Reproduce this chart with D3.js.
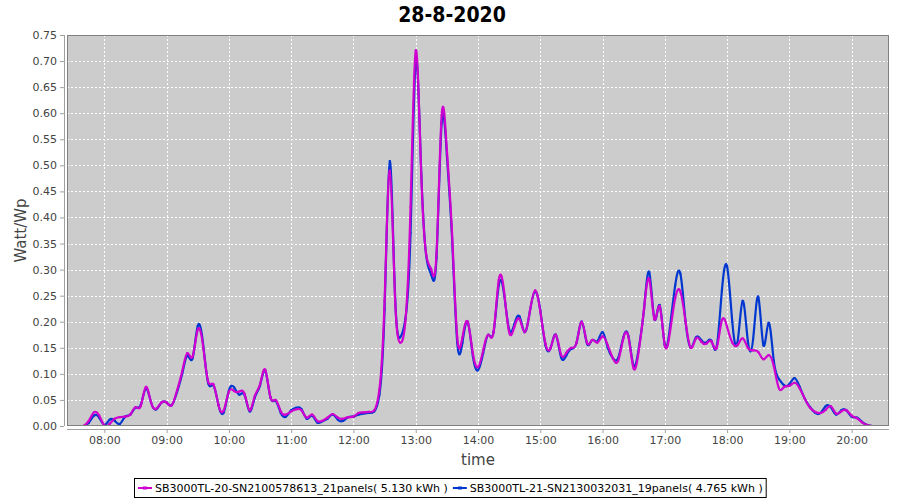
<!DOCTYPE html>
<html>
<head>
<meta charset="utf-8">
<script src="https://cdn.jsdelivr.net/npm/d3@7"></script>
<style>
  body { margin: 0; background: #ffffff; }
  svg { display: block; font-family: "DejaVu Sans", sans-serif; }
</style>
</head>
<body>
<div id="chart"></div>
<script>
// Samples every 5 minutes, starting 07:40
const startTime = "2020-08-28 07:40";
const stepMinutes = 5;

const seriesNames = [
    "SB3000TL-20-SN2100578613_21panels( 5.130 kWh )",
    "SB3000TL-21-SN2130032031_19panels( 4.765 kWh )"
];
const seriesColors = ["#d000d0", "#0037d0"];

const tickHours = ["08:00", "09:00", "10:00", "11:00", "12:00", "13:00", "14:00",
    "15:00", "16:00", "17:00", "18:00", "19:00", "20:00"];

// SB3000TL-20 (magenta)
const panels21 = [
    0.000, 0.010, 0.026, 0.020,
    0.001, 0.004, 0.014, 0.017, 0.018, 0.022, 0.036, 0.038, 0.075, 0.045, 0.033, 0.045,
    0.045, 0.040, 0.068, 0.105, 0.140, 0.133, 0.185, 0.155, 0.085, 0.080, 0.040, 0.030,
    0.066, 0.067, 0.066, 0.062, 0.030, 0.058, 0.080, 0.108, 0.055, 0.050, 0.028, 0.022,
    0.028, 0.032, 0.030, 0.016, 0.022, 0.010, 0.010, 0.016, 0.023, 0.016, 0.014, 0.017,
    0.018, 0.025, 0.026, 0.027, 0.030, 0.070, 0.240, 0.490, 0.250, 0.160, 0.200, 0.420,
    0.720, 0.500, 0.330, 0.300, 0.330, 0.596, 0.530, 0.370, 0.170, 0.170, 0.200, 0.140,
    0.113, 0.145, 0.175, 0.180, 0.280, 0.260, 0.180, 0.190, 0.205, 0.180, 0.220, 0.260,
    0.220, 0.158, 0.150, 0.175, 0.137, 0.140, 0.150, 0.160, 0.200, 0.160, 0.165, 0.160,
    0.172, 0.155, 0.130, 0.125, 0.168, 0.170, 0.110, 0.145, 0.225, 0.282, 0.205, 0.230,
    0.155, 0.180, 0.245, 0.258, 0.200, 0.150, 0.168, 0.162, 0.158, 0.162, 0.150, 0.203,
    0.190, 0.160, 0.155, 0.168, 0.150, 0.145, 0.142, 0.128, 0.136, 0.115, 0.072, 0.075,
    0.077, 0.083, 0.072, 0.052, 0.035, 0.027, 0.025, 0.031, 0.038, 0.024, 0.028, 0.030,
    0.020, 0.015, 0.007, 0.002, 0.000
];

// SB3000TL-21 (blue)
const panels19 = [
    0.000, 0.006, 0.020, 0.016,
    0.002, 0.012, 0.010, 0.004, 0.018, 0.022, 0.035, 0.040, 0.072, 0.045, 0.032, 0.045,
    0.045, 0.040, 0.065, 0.100, 0.135, 0.130, 0.192, 0.160, 0.082, 0.078, 0.040, 0.026,
    0.068, 0.074, 0.060, 0.060, 0.028, 0.055, 0.078, 0.106, 0.055, 0.048, 0.025, 0.018,
    0.030, 0.035, 0.032, 0.014, 0.020, 0.007, 0.009, 0.014, 0.022, 0.012, 0.010, 0.017,
    0.018, 0.022, 0.024, 0.025, 0.028, 0.060, 0.225, 0.508, 0.255, 0.170, 0.205, 0.370,
    0.700, 0.505, 0.328, 0.290, 0.323, 0.582, 0.520, 0.360, 0.160, 0.160, 0.200, 0.135,
    0.107, 0.140, 0.175, 0.180, 0.270, 0.255, 0.185, 0.195, 0.210, 0.180, 0.220, 0.258,
    0.222, 0.155, 0.150, 0.175, 0.132, 0.135, 0.148, 0.160, 0.200, 0.158, 0.165, 0.162,
    0.180, 0.150, 0.130, 0.130, 0.170, 0.172, 0.115, 0.150, 0.225, 0.295, 0.205, 0.232,
    0.155, 0.190, 0.270, 0.292, 0.200, 0.150, 0.170, 0.165, 0.160, 0.163, 0.152, 0.260,
    0.306, 0.200, 0.160, 0.240, 0.163, 0.165, 0.248, 0.155, 0.198, 0.125, 0.090, 0.078,
    0.080, 0.092, 0.075, 0.052, 0.036, 0.025, 0.025, 0.038, 0.036, 0.022, 0.030, 0.030,
    0.018, 0.016, 0.008, 0.002, 0.000
];

function drawChart(containerId = "#chart") {
    const W = 900, H = 500;
    const plot = { left: 67, top: 35, right: 889, bottom: 426 };

    const parse = d3.timeParse("%Y-%m-%d %H:%M");
    const t0 = parse(startTime);
    const times = panels21.map((_, i) => d3.timeMinute.offset(t0, i * stepMinutes));

    const svg = d3.select(containerId)
        .append("svg")
        .attr("width", W)
        .attr("height", H);

    // Title
    svg.append("text")
        .attr("x", 452)
        .attr("y", 22)
        .attr("text-anchor", "middle")
        .style("font-family", "'DejaVu Sans Condensed', 'DejaVu Sans', sans-serif")
        .style("font-stretch", "condensed")
        .style("font-size", "21px")
        .style("font-weight", "bold")
        .attr("fill", "#000")
        .text("28-8-2020");

    const x = d3.scaleTime()
        .domain([parse("2020-08-28 07:24"), parse("2020-08-28 20:36")])
        .range([plot.left, plot.right]);

    const y = d3.scaleLinear()
        .domain([0, 0.75])
        .range([plot.bottom, plot.top]);

    const tickDates = tickHours.map(h => parse("2020-08-28 " + h));
    const yTicks = d3.range(0, 16).map(i => i * 0.05);

    // Plot background
    svg.append("rect")
        .attr("x", plot.left)
        .attr("y", plot.top)
        .attr("width", plot.right - plot.left)
        .attr("height", plot.bottom - plot.top)
        .attr("fill", "#cccccc");

    // Grid lines
    const grid = svg.append("g")
        .attr("stroke", "#ffffff")
        .attr("stroke-width", 1)
        .attr("stroke-dasharray", "2,2");
    grid.selectAll(".vg")
        .data(tickDates)
        .enter()
        .append("line")
        .attr("x1", d => Math.round(x(d)) + 0.5)
        .attr("x2", d => Math.round(x(d)) + 0.5)
        .attr("y1", plot.top)
        .attr("y2", plot.bottom);
    grid.selectAll(".hg")
        .data(yTicks.slice(1))
        .enter()
        .append("line")
        .attr("x1", plot.left)
        .attr("x2", plot.right)
        .attr("y1", d => Math.round(y(d)) + 0.5)
        .attr("y2", d => Math.round(y(d)) + 0.5);

    // Clip for series
    svg.append("clipPath")
        .attr("id", "plotClip")
        .append("rect")
        .attr("x", plot.left)
        .attr("y", plot.top)
        .attr("width", plot.right - plot.left)
        .attr("height", plot.bottom - plot.top);

    const line = d3.line()
        .x((d, i) => x(times[i]))
        .y(d => y(d))
        .curve(d3.curveNatural);

    // blue first, magenta on top
    const series = [panels19, panels21];
    const colors = [seriesColors[1], seriesColors[0]];
    const lines = svg.append("g").attr("clip-path", "url(#plotClip)");
    series.forEach((vals, k) => {
        lines.append("path")
            .datum(vals)
            .attr("fill", "none")
            .attr("stroke", colors[k])
            .attr("stroke-width", 2.2)
            .attr("stroke-linejoin", "round")
            .attr("d", line);
        lines.selectAll(".m" + k)
            .data(vals)
            .enter()
            .append("rect")
            .attr("x", (d, i) => x(times[i]) - 1)
            .attr("y", d => y(d) - 1)
            .attr("width", 2)
            .attr("height", 2)
            .attr("fill", colors[k]);
    });

    // Plot outline
    svg.append("rect")
        .attr("x", plot.left + 0.5)
        .attr("y", plot.top + 0.5)
        .attr("width", plot.right - plot.left - 1)
        .attr("height", plot.bottom - plot.top - 1)
        .attr("fill", "none")
        .attr("stroke", "#808080")
        .attr("stroke-width", 1);

    // Axes
    const yAxis = svg.append("g")
        .attr("transform", `translate(${plot.left - 3}, 0)`)
        .call(d3.axisLeft(y).tickValues(yTicks).tickFormat(d3.format(".2f")).tickSize(4).tickPadding(3));
    const xAxis = svg.append("g")
        .attr("transform", `translate(0, ${plot.bottom + 3})`)
        .call(d3.axisBottom(x).tickValues(tickDates).tickFormat(d3.timeFormat("%H:%M")).tickSize(4).tickPadding(3));

    [yAxis, xAxis].forEach(a => {
        a.select(".domain").attr("stroke", "#a0a0a0");
        a.selectAll(".tick line").attr("stroke", "#a0a0a0");
        a.selectAll(".tick text")
            .attr("fill", "#444444")
            .style("font-family", "'DejaVu Sans', sans-serif")
            .style("font-size", "11px");
    });
    xAxis.select(".domain").attr("d", `M${plot.left},0.5H${plot.right}`);
    yAxis.select(".domain").attr("d", `M0.5,${plot.top}V${plot.bottom}`);

    // Axis labels
    svg.append("text")
        .attr("x", 478)
        .attr("y", 465)
        .attr("text-anchor", "middle")
        .style("font-size", "15px")
        .attr("fill", "#444444")
        .text("time");
    svg.append("text")
        .attr("text-anchor", "middle")
        .attr("transform", `translate(26, ${(plot.top + plot.bottom) / 2}) rotate(-90)`)
        .style("font-size", "15px")
        .attr("fill", "#444444")
        .text("Watt/Wp");

    // Legend
    const legendBox = svg.append("rect");
    const legend = svg.append("g");
    const legendY = 488;
    let cursor = 0;
    seriesNames.forEach((name, k) => {
        const g = legend.append("g").attr("transform", `translate(${cursor}, 0)`);
        g.append("line")
            .attr("x1", 0).attr("x2", 14)
            .attr("y1", legendY).attr("y2", legendY)
            .attr("stroke", seriesColors[k])
            .attr("stroke-width", 2);
        g.append("rect")
            .attr("x", 5).attr("y", legendY - 1.5)
            .attr("width", 4).attr("height", 3)
            .attr("fill", seriesColors[k]);
        const txt = g.append("text")
            .attr("x", 17)
            .attr("y", legendY + 4)
            .style("font-size", "11px")
            .attr("fill", "#000")
            .text(name);
        cursor += 17 + txt.node().getComputedTextLength() + 5;
    });
    const totalW = cursor - 5;
    const lx = Math.round(450 - totalW / 2);
    legend.attr("transform", `translate(${lx}, 0)`);
    legendBox
        .attr("x", lx - 3.5)
        .attr("y", 478.5)
        .attr("width", totalW + 7)
        .attr("height", 19)
        .attr("fill", "#ffffff")
        .attr("stroke", "#000000")
        .attr("stroke-width", 1);
}

drawChart();
</script>
</body>
</html>
